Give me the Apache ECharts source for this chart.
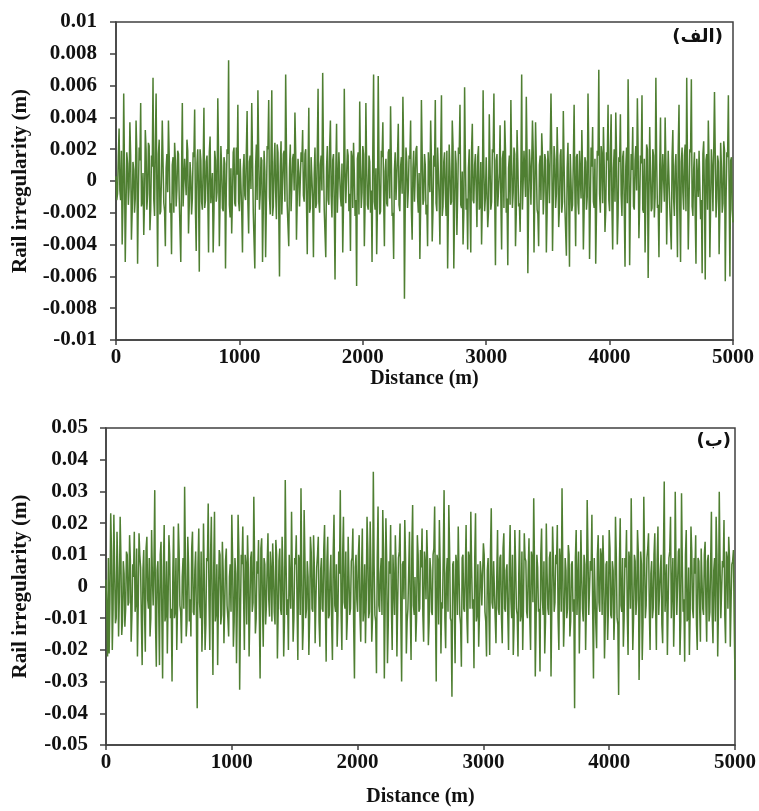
<!DOCTYPE html>
<html>
<head>
<meta charset="utf-8">
<script src="https://cdn.jsdelivr.net/npm/echarts@6/dist/echarts.min.js"></script>
<style>
  html, body { margin: 0; padding: 0; background: #fff; }
  #chart { width: 759px; height: 811px; }
</style>
</head>
<body>
<div id="chart"></div>
<script>
// sample spacing along the track (m); peak samples on the STEP grid,
// fine-band samples half way between them
const STEP = 12.5;

// panel (الف): peak samples, mm
const topIrregularityMm = [
  0.3, -0.8, 3.3, -1.2, -4.0, 5.5, -5.1, 1.8, -1.5, 3.7,
  -3.7, 1.2, -2.0, 3.8, -5.2, 2.1, 4.9, -1.3, -3.4, 3.2,
  -1.8, 2.4, -3.1, 1.6, 6.5, -2.2, 5.5, -5.4, 2.6, -1.9,
  3.8, -1.4, -4.1, 1.7, 3.8, -2.0, -4.6, 1.5, 2.4, -1.6,
  1.9, -1.1, -5.1, 4.9, -1.7, 1.4, 2.6, -3.3, 1.2, -2.1,
  1.8, 4.5, -4.4, 2.0, -5.7, 1.3, -1.8, 4.6, -1.2, 1.6,
  -4.5, 2.8, -1.5, -4.5, 1.9, -1.3, 5.2, -4.1, 2.2, -1.7,
  1.5, -5.5, 2.0, 7.6, -2.3, -3.3, 1.8, -1.4, 2.1, 4.8,
  -1.9, 1.4, -4.5, 1.7, -1.2, 4.4, -3.3, 1.6, 4.9, -2.0,
  -5.5, 2.3, 5.7, -1.8, 1.5, -5.1, 1.9, -4.8, 2.2, 5.1,
  -2.1, 5.7, -1.6, 2.4, -2.4, 1.8, -6.0, 2.5, -2.2, 1.9,
  6.7, -1.5, -4.1, 2.3, -1.9, 1.7, 4.3, -3.7, 1.4, -1.6,
  1.8, 3.2, -1.3, 2.0, -4.6, 4.6, -1.7, 1.5, -4.8, 2.1,
  -1.4, 5.8, -2.0, 1.6, 6.8, -1.8, -4.8, 2.2, -1.5, 3.8,
  -2.3, 1.7, -6.2, 3.6, -2.1, 1.9, -1.6, -4.5, 5.8, -1.4,
  2.0, -1.9, -4.4, 1.5, 2.4, -2.2, -6.6, 1.8, 5.0, -1.7,
  2.2, -4.1, 4.9, -1.5, 1.6, -2.0, -5.1, 6.7, -1.8, -4.6,
  6.6, -2.1, 1.9, 3.7, -4.1, 1.4, -1.6, 2.0, 4.7, -2.2,
  -4.9, 1.8, -1.3, 3.6, -1.9, 1.5, 5.3, -7.4, 2.1, -1.7,
  1.6, 3.8, -3.7, 1.9, -1.4, 2.2, -2.0, -4.9, 5.1, -1.5,
  1.7, -2.1, -4.1, 1.8, 3.8, -3.8, 1.6, 5.1, -1.9, 2.0,
  -4.0, 5.4, -1.6, 1.8, -2.2, -5.5, 2.3, -1.5, 3.8, -5.5,
  1.9, -3.4, 2.1, 4.8, -1.7, -4.0, 5.9, -1.8, -4.3, 2.0,
  -4.5, 3.6, -1.4, 1.7, -2.9, 2.2, -1.6, -4.0, 5.7, -1.9,
  1.5, -2.9, 4.2, -1.8, 2.0, 5.5, -5.3, 1.7, -1.5, 3.5,
  -4.3, 1.9, 3.8, -2.0, -5.3, 1.6, 5.1, -1.7, 2.1, -4.1,
  3.2, -1.6, -3.2, 6.7, -1.9, 1.8, 5.3, -5.8, 2.0, -1.5,
  3.8, -4.5, 3.7, -1.8, -4.1, 1.6, 3.0, -2.1, 1.7, -4.5,
  1.9, -1.4, 5.5, -4.4, 2.2, -1.7, 3.4, -2.9, 1.6, -2.0,
  4.4, -1.6, -4.7, 2.4, -5.4, 1.8, -1.5, 4.8, -4.1, 1.7,
  -2.1, 2.0, 3.2, -4.3, 1.5, -1.8, 5.5, -4.9, 2.1, 3.4,
  -1.7, -5.2, 1.9, 7.0, -2.0, 1.6, 3.4, -3.2, 1.8, 4.8,
  -1.9, 4.2, -4.3, 2.0, 4.3, -4.0, 1.5, 4.2, -2.2, 1.9,
  -5.4, 2.1, 6.4, -5.3, 1.7, 3.4, -1.8, 2.2, 5.2, -3.6,
  1.6, 5.4, -2.0, -4.5, 2.3, -6.1, 3.4, -1.9, 2.0, -2.3,
  6.5, -1.7, -4.8, 4.0, -2.1, 1.8, 4.0, -4.0, 1.9, -1.6,
  -4.3, 3.2, -2.2, 1.7, -4.8, 4.8, -5.1, 2.1, -1.8, 2.3,
  6.5, -4.3, 2.0, 6.4, -2.2, 1.8, -5.2, 1.5, 1.9, -2.4,
  -5.8, 2.5, -6.2, 1.7, 3.8, -4.8, 2.0, -1.9, 5.6, -2.3,
  1.6, -4.6, 2.4, -2.0, 2.5, -6.3, 1.8, 5.4, -6.0, 1.5,
  -2.6
];

// panel (الف): fine-band samples between the peaks, mm
const topBandMm = [
  -1.2, 1.5, -0.6, 1.9, -1.4, 0.8, -1.7, 1.1, -0.4, 1.6,
  -1.9, 0.7, -1.1, 1.8, -0.9, 1.3, -1.6, 0.5, -1.3, 2.0,
  -0.8, 2.2, -1.8, 0.9, -1.2, 2.3, -0.6, 1.7, -2.1, 0.4,
  1.2, -1.9, 0.8, -0.7, 1.6, -1.4, 1.0, -2.0, 1.3, -0.5,
  1.7, -1.2, 0.6, -1.6, 1.4, -0.9, 1.9, -1.5, 0.3, -1.1,
  1.5, -1.8, 1.1, -0.6, 2.0, -1.3, 0.9, -1.7, 1.2, -0.8,
  1.8, -1.4, 0.5, -2.0, 1.3, -0.7, 1.6, -1.2, 0.9, -1.9,
  1.1, -0.6, 1.7, -1.5, 0.8, -1.1, 2.1, -1.6, 0.4, -1.3,
  1.4, -1.9, 0.7, -0.9, 1.8, -1.4, 1.2, -0.5, 1.6, -2.1,
  0.9, -1.2, 1.9, -0.8, 1.3, -1.7, 0.6, -1.4, 2.0, -1.0,
  1.5, -2.2, 1.1, -0.7, 2.3, -1.8, 0.9, -2.1, 1.7, -1.3,
  2.0, -1.5, 0.8, -1.9, 1.4, -0.6, 1.8, -1.2, 0.5, -1.6,
  1.2, -0.9, 1.7, -1.4, 0.7, -2.0, 1.5, -1.1, 0.4, -1.7,
  1.9, -1.3, 1.0, -0.6, 1.6, -1.8, 0.8, -1.2, 2.1, -0.9,
  1.3, -1.6, 0.6, -2.0, 1.8, -1.0, 1.1, -1.5, 0.7, -1.3,
  1.6, -0.8, 1.9, -1.7, 0.5, -1.2, 1.4, -2.1, 1.0, -0.7,
  1.7, -1.4, 0.9, -1.8, 1.2, -0.6, 2.0, -1.3, 0.8, -1.6,
  1.1, -1.9, 1.5, -0.9, 0.6, -1.4, 1.8, -1.1, 1.3, -2.0,
  0.7, -1.2, 1.6, -1.5, 0.9, -0.8, 1.9, -1.7, 1.2, -0.6,
  1.4, -1.8, 0.8, -1.3, 2.0, -1.0, 0.5, -1.6, 1.7, -1.2,
  1.0, -1.5, 1.8, -0.7, 1.3, -1.9, 0.9, -1.4, 2.1, -1.1,
  1.6, -2.2, 1.2, -0.8, 1.9, -1.6, 0.7, -1.3, 2.2, -1.8,
  1.1, -0.9, 1.7, -1.5, 0.6, -2.0, 1.4, -1.1, 0.8, -1.7,
  1.9, -1.2, 1.0, -0.6, 1.5, -1.8, 1.2, -1.4, 0.7, -1.0,
  1.6, -1.9, 0.9, -1.3, 1.8, -0.8, 1.3, -1.6, 0.5, -1.2,
  1.4, -1.7, 2.0, -1.1, 0.8, -1.5, 1.1, -0.7, 1.7, -2.0,
  1.2, -1.4, 0.6, -1.8, 1.9, -1.0, 1.5, -1.3, 0.9, -1.6,
  1.8, -0.9, 1.2, -2.1, 1.0, -1.2, 1.6, -0.6, 1.3, -1.9,
  0.7, -1.5, 1.9, -1.1, 1.4, -0.8, 1.1, -1.7, 2.0, -1.3,
  1.0, -1.6, 0.8, -1.2, 1.7, -1.9, 1.3, -0.7, 1.5, -1.4,
  1.9, -1.1, 0.6, -1.8, 1.2, -1.0, 1.8, -1.5, 0.9, -1.3,
  1.4, -2.0, 1.6, -0.8, 2.2, -1.4, 1.0, -1.9, 1.3, -1.2,
  2.0, -1.6, 0.8, -1.3, 1.7, -2.1, 1.2, -0.9, 1.5, -1.7,
  0.9, -1.4, 1.8, -1.1, 0.7, -1.6, 1.3, -0.6, 1.9, -1.5,
  1.1, -1.8, 1.4, -0.9, 2.0, -1.2, 0.6, -1.7, 1.6, -1.0,
  1.3, -1.5, 0.8, -2.0, 1.7, -1.3, 1.1, -0.8, 1.9, -1.6,
  1.5, -1.1, 0.9, -1.4, 2.1, -1.8, 1.2, -0.7, 1.6, -1.9,
  1.0, -1.3, 1.8, -1.6, 0.7, -2.2, 1.4, -1.0, 2.0, -1.2,
  1.7, -0.9, 1.3, -1.8, 1.1, -1.5, 0.8, -1.9, 1.6, -1.1,
  1.2, -1.7, 0.9, -1.4, 1.9, -1.2, 1.5, -0.8, 1.3, -1.8
];

// panel (ب): peak samples, mm
const bottomIrregularityMm = [
  2.1, -22.1, -21.1, 23.1, -20.0, 22.6, -11.6, 17.3, -15.8, 22.0,
  -15.3, 8, -12.7, 11.0, -6, 16.2, -17.4, 7, 17.3, -5,
  -22.1, 16.8, 6, -24.8, 11.5, -20.6, 15.7, -7, -15.8, 17.8,
  -6, 30.4, -25.3, 8, -24.8, 14.1, -29.0, 19.4, -9, -21.1,
  16.2, -10, -30.0, 18.9, -8, -20.0, 19.9, -6, -17.9, 9,
  31.5, -15.8, 15.7, -11, -15.8, 17.3, -9, 11, -38.4, 18.3,
  -10, -20.6, 19.9, -20.0, 9, 26.2, -20.0, 22.0, -27.9, 23.6,
  -8, -24.8, 11.5, -12, 14.1, -17.9, 8, -6, -15.8, 7,
  22.6, -19.0, 9, -24.2, 22.6, -32.6, 10, 18.9, -20.0, 7,
  16.2, -22.1, 9, -8, 28.3, -14.8, 8, 14.7, -29.0, 15.2,
  -19.0, 7, -6, 16.8, -9.5, 5, 13.6, -8, 14.7, -22.7,
  8, -7, 15.7, -22.1, 33.6, -9, -20.0, 10, 23.6, -17.4,
  9, 16.2, -23.2, 8, 31.0, -20.0, 24.1, -10, 8, -21.6,
  15.7, -7, 16.2, -17.9, 6, 15.7, -19.0, 9, -8, 19.4,
  -23.7, 15.7, -9, 10, -23.2, 22.6, -8, -19.0, 11, 30.4,
  -20.0, 22.0, -7, -16.9, 15.7, -9, 8, 18.3, -29.0, 10,
  -8, 16.2, -17.4, 18.3, -7, -17.9, 22.0, -10, 20.5, -17.4,
  36.2, -9, -27.4, 25.2, -8, 9, 24.1, -29.0, 21.5, -24.2,
  8, 19.4, -20.0, 10, 16.2, -22.1, 9, 19.9, -30.0, 8,
  21.0, -21.1, -7, 17.3, -23.2, 25.7, -9, -17.4, 16.2, -8,
  11.5, 18.3, -17.4, 7, 17.8, -18.5, 9, -8, 10, 25.2,
  -30.0, 8, 21.0, -21.1, -7, 30.4, -19.5, 9, 25.7, -10,
  -34.8, 8, -24.2, 7, 18.9, -9, -25.3, 10, -8, 19.4,
  -17.9, 9, 23.6, -7, -25.8, 23.1, -9, -19.0, 8, -6,
  13.6, -8, -22.1, 9, -21.6, 24.7, -7, 8, -17.9, 17.8,
  -9, 10, -17.9, 16.8, -8, 7, -20.0, 19.4, -10, -21.6,
  17.8, -7, -22.1, 17.8, -9, -20.0, 16.8, 8, -10, 15.2,
  -20.0, 9, 27.8, -28.4, 10, -8, -26.8, 18.3, -9, -21.1,
  19.9, -7, 9, -28.4, 18.9, -8, 10, 19.4, -20.0, 8,
  31.0, -19.0, 9, -10, 13.1, -15.8, 7, -8, -38.4, 17.8,
  -9, -21.1, 17.8, -7, 10, -20.0, 27.3, -9, 8, 22.6,
  -29.0, 9, -19.5, 16.2, -8, 10, 16.2, -22.7, 7, -16.9,
  17.8, -9, 8, -16.9, 22.0, -10, -34.2, 21.5, -8, -19.0,
  9, 17.8, -21.6, 8, 27.8, -20.0, 10, -9, 17.8, -29.5,
  11, -23.2, 28.3, -10, 9, 16.8, -20.0, 8, -7, 16.8,
  -20.0, 18.9, -9, 10, -17.9, 33.1, -8, -21.6, 9, 22.0,
  -10, -19.0, 29.9, -9, 11, -21.6, 29.4, -8, -23.7, 17.8,
  -10, -21.6, 18.9, -7, 9, 16.2, -20.0, 8, -17.4, 12.0,
  -9, 14.1, -17.4, 10, -8, 23.6, -17.9, 9, 22.0, -22.1,
  29.9, -10, 8, 21.0, -17.9, 9, 15.7, -19.0, 7, 11.5,
  -29.5
];

// panel (ب): fine-band samples between the peaks, mm
const bottomBandMm = [
  -8, 9, -4, 11, -7, 5, -10, 6, -3, 9,
  -11, 4, -7, 10, -5, 8, -9, 3, -8, 12,
  -6, 10, -11, 5, -8, 12, -4, 9, -10, 3,
  7, -12, 5, -6, 10, -9, 6, -11, 8, -4,
  10, -7, 4, -10, 9, -6, 11, -8, 3, -7,
  9, -11, 7, -4, 12, -8, 5, -10, 7, -5,
  11, -9, 3, -12, 8, -4, 10, -7, 6, -11,
  7, -4, 10, -9, 5, -7, 12, -10, 3, -8,
  9, -11, 4, -6, 11, -9, 7, -3, 10, -12,
  6, -8, 11, -5, 8, -10, 4, -9, 12, -6,
  9, -12, 7, -4, 11, -11, 5, -12, 10, -8,
  12, -9, 5, -11, 8, -4, 10, -7, 3, -10,
  7, -6, 10, -9, 4, -12, 9, -7, 3, -10,
  11, -8, 6, -4, 10, -11, 5, -7, 12, -6,
  8, -10, 4, -12, 11, -6, 7, -9, 4, -8,
  10, -5, 11, -10, 3, -7, 9, -12, 6, -4,
  10, -9, 5, -11, 7, -4, 12, -8, 5, -10,
  7, -11, 9, -6, 4, -9, 11, -7, 8, -12,
  4, -7, 10, -9, 6, -5, 11, -10, 7, -4,
  9, -11, 5, -8, 12, -6, 3, -10, 10, -7,
  6, -9, 11, -4, 8, -11, 5, -9, 12, -7,
  10, -12, 7, -5, 11, -10, 4, -8, 12, -11,
  7, -6, 10, -9, 4, -12, 9, -7, 5, -10,
  11, -7, 6, -4, 9, -11, 7, -9, 4, -6,
  10, -11, 5, -8, 11, -5, 8, -10, 3, -7,
  9, -10, 12, -7, 5, -9, 7, -4, 10, -12,
  7, -9, 4, -11, 11, -6, 9, -8, 5, -10,
  11, -5, 7, -12, 6, -7, 10, -4, 8, -11,
  4, -9, 11, -7, 9, -5, 7, -10, 12, -8,
  6, -10, 5, -7, 10, -11, 8, -4, 9, -9,
  11, -7, 4, -11, 7, -6, 11, -9, 5, -8,
  9, -12, 10, -5, 12, -9, 6, -11, 8, -7,
  12, -10, 5, -8, 10, -12, 7, -6, 9, -10,
  6, -9, 11, -7, 4, -10, 8, -4, 11, -9,
  7, -11, 9, -6, 12, -7, 4, -10, 10, -6,
  8, -9, 5, -12, 10, -8, 7, -5, 11, -10,
  9, -7, 6, -9, 12, -11, 7, -4, 10, -11,
  6, -8, 11, -10, 4, -12, 9, -6, 12, -7,
  10, -6, 8, -11, 7, -9, 5, -11, 10, -7,
  7, -10, 6, -9, 11, -7, 9, -5, 8, -11
];

const panelLabels = ['(الف)', '(ب)'];

const LINE_COLOR = '#4f7f32';
const AXIS_COLOR = '#404040';
const FONT = 'Liberation Serif';

// interleave peaks and band samples, mm -> m
function toSeries(peaksMm, bandMm) {
  const out = [];
  peaksMm.forEach((v, i) => {
    out.push([i * STEP, v / 1000]);
    if (i < bandMm.length) out.push([(i + 0.5) * STEP, bandMm[i] / 1000]);
  });
  return out;
}

function xAxisFor(gridIndex, nameGap) {
  return {
    type: 'value',
    gridIndex: gridIndex,
    min: 0,
    max: 5000,
    interval: 1000,
    name: 'Distance (m)',
    nameLocation: 'middle',
    nameGap: nameGap,
    nameTextStyle: { fontFamily: FONT, fontWeight: 'bold', fontSize: 20, color: '#111' },
    axisLine: { show: true, onZero: false, lineStyle: { color: AXIS_COLOR, width: 1.5 } },
    axisTick: { show: true, inside: false, length: 5, lineStyle: { color: AXIS_COLOR, width: 1.5 } },
    axisLabel: {
      fontFamily: FONT, fontWeight: 'bold', fontSize: 21, color: '#111', margin: 7,
      formatter: (v) => String(v)
    },
    splitLine: { show: false }
  };
}

function yAxisFor(gridIndex, min, max, interval, nameGap, labelMargin) {
  return {
    type: 'value',
    gridIndex: gridIndex,
    min: min,
    max: max,
    interval: interval,
    name: 'Rail irregularity (m)',
    nameLocation: 'middle',
    nameRotate: 90,
    nameGap: nameGap,
    nameTextStyle: { fontFamily: FONT, fontWeight: 'bold', fontSize: 21, color: '#111' },
    axisLine: { show: true, onZero: false, lineStyle: { color: AXIS_COLOR, width: 1.5 } },
    axisTick: { show: true, inside: false, length: 6, lineStyle: { color: AXIS_COLOR, width: 1.5 } },
    axisLabel: { fontFamily: FONT, fontWeight: 'bold', fontSize: 21, color: '#111', margin: labelMargin },
    splitLine: { show: false }
  };
}

const chart = echarts.init(document.getElementById('chart'), null, { renderer: 'canvas' });

const option = {
  animation: false,
  backgroundColor: '#fff',
  grid: [
    { left: 116, top: 22, width: 617, height: 318, show: true, borderColor: AXIS_COLOR, borderWidth: 1.5, backgroundColor: 'transparent' },
    { left: 106, top: 428, width: 630, height: 317, show: true, borderColor: AXIS_COLOR, borderWidth: 1.5, backgroundColor: 'transparent' }
  ],
  xAxis: [xAxisFor(0, 28), xAxisFor(1, 42)],
  yAxis: [
    yAxisFor(0, -0.01, 0.01, 0.002, 85, 19),
    yAxisFor(1, -0.05, 0.05, 0.01, 75, 18)
  ],
  series: [
    {
      type: 'line', xAxisIndex: 0, yAxisIndex: 0,
      data: toSeries(topIrregularityMm, topBandMm),
      showSymbol: false, sampling: false,
      lineStyle: { color: LINE_COLOR, width: 1.5 }
    },
    {
      type: 'line', xAxisIndex: 1, yAxisIndex: 1,
      data: toSeries(bottomIrregularityMm, bottomBandMm),
      showSymbol: false, sampling: false,
      lineStyle: { color: LINE_COLOR, width: 1.5 }
    }
  ],
  graphic: [
    {
      type: 'text', right: 36, top: 28,
      style: { text: panelLabels[0], font: 'bold 18px "DejaVu Sans"', fill: '#111' }
    },
    {
      type: 'text', right: 28, top: 432,
      style: { text: panelLabels[1], font: 'bold 18px "DejaVu Sans"', fill: '#111' }
    }
  ]
};

chart.setOption(option);
</script>
</body>
</html>
